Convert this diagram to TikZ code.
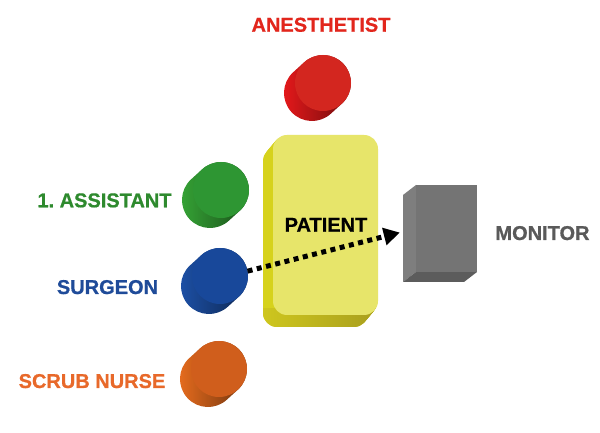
\documentclass[tikz,border=0pt]{standalone}
\usepackage{fontspec}
\setmainfont{Liberation Sans}
\newfontfamily\lblfont[FakeBold=0.7]{Liberation Sans Bold}
\usetikzlibrary{calc,arrows.meta}
\definecolor{redtxt}{HTML}{E2261C}
\definecolor{greentxt}{HTML}{2E8A2E}
\definecolor{bluetxt}{HTML}{1F4B99}
\definecolor{orangetxt}{HTML}{E8692A}
\definecolor{graytxt}{HTML}{5A5A5A}
\definecolor{redfront}{HTML}{D3261F}
\definecolor{redside}{HTML}{E8191B}
\definecolor{greenfront}{HTML}{2E9633}
\definecolor{greenside}{HTML}{36A536}
\definecolor{bluefront}{HTML}{18489A}
\definecolor{blueside}{HTML}{1D51A8}
\definecolor{orangefront}{HTML}{D05E1C}
\definecolor{orangeside}{HTML}{E96D1E}
\definecolor{patfront}{HTML}{E7E56A}
\definecolor{patside}{HTML}{D6D21C}
\definecolor{patbotA}{HTML}{CEC61E}
\definecolor{patbotB}{HTML}{ACA21E}
\definecolor{monfront}{HTML}{747474}
\definecolor{monside}{HTML}{7E7E7E}
\definecolor{monbottom}{HTML}{5C5C5C}
\newcommand{\mycyl}[4]{%
  \shade[left color=#2, right color=#2!45!black]
    ($(#1)+(312.3:28pt)$) -- ($(#1)+(-11,-10)+(312.3:28pt)$)
    arc[start angle=312.3, end angle=132.3, radius=28pt]
    -- ($(#1)+(132.3:28pt)$)
    arc[start angle=132.3, end angle=-47.7, radius=28pt] -- cycle;
  \node[cylface, fill=#3] (#4) at (#1) {};
}
\begin{document}
\frenchspacing
\begin{tikzpicture}[x=1pt, y=1pt,
  lbl/.style={font=\lblfont\fontsize{20}{24}\selectfont, anchor=base, inner sep=0pt},
  cylface/.style={circle, minimum size=56pt, inner sep=0pt, outer sep=0pt},
  patbox/.style={rectangle, rounded corners=14pt, minimum width=105pt, minimum height=180pt, inner sep=0pt, fill=patfront},
  monbox/.style={rectangle, minimum width=61pt, minimum height=87pt, inner sep=0pt, fill=monfront},
  flow/.style={line width=5pt, dash pattern=on 5pt off 4.5pt, -{Triangle[length=16pt,width=17pt]}}
]
\fill[white] (0,0) rectangle (600,433);
\useasboundingbox (0,0) rectangle (600,433);

% patient extrusion
\foreach \t in {1,...,12}
  \fill[patside, rounded corners=14pt] ($(273,118)+(-\t*0.8333,-\t)$) rectangle ($(378,298)+(-\t*0.8333,-\t)$);
\begin{scope}
  \clip (240,95) rectangle (400,124);
  \foreach \t in {1,...,12}
    \shade[left color=patbotA, right color=patbotB, rounded corners=14pt] ($(273,118)+(-\t*0.8333,-\t)$) rectangle ($(378,298)+(-\t*0.8333,-\t)$);
\end{scope}
\node[patbox] (patient) at (325.5,208) {};
\node[lbl, text=black] (patientlbl) at (326,201.3) {PATIENT};

% monitor
\fill[monside] (416,161) -- (403,151) -- (403,238) -- (416,248) -- cycle;
\fill[monbottom] (416,161) -- (403,151) -- (464,151) -- (477,161) -- cycle;
\node[monbox] (monitor) at (446.5,204.5) {};

% cylinders
\mycyl{323,350}{redside}{redfront}{anesthetist}
\mycyl{221,243}{greenside}{greenfront}{assistant}
\mycyl{220,157}{blueside}{bluefront}{surgeon}
\mycyl{219,64}{orangeside}{orangefront}{nurse}

% arrow
\draw[flow, shorten >=16.5pt] (surgeon.10) -- (monitor.west);

% labels
\node[lbl, text=redtxt] (anesthetistlbl) at (321,401.3) {ANESTHETIST};
\node[lbl, text=greentxt] (assistantlbl) at (104.5,225.7) {1. ASSISTANT};
\node[lbl, text=bluetxt] (surgeonlbl) at (107.5,139) {SURGEON};
\node[lbl, text=orangetxt] (nurselbl) at (92,45) {SCRUB NURSE};
\node[lbl, text=graytxt] (monitorlbl) at (542.5,193) {MONITOR};
\end{tikzpicture}
\end{document}
